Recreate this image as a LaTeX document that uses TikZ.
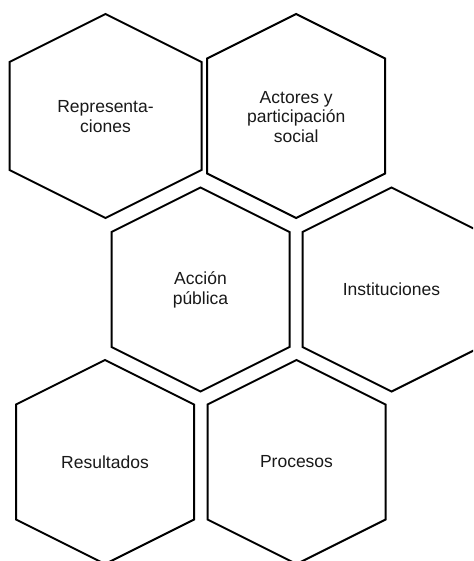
\documentclass[tikz,border=0pt]{standalone}
\usepackage{fontspec}
\setmainfont{Liberation Sans}
\tikzset{
  hexline/.style={draw=black, line width=2pt, line join=miter},
  hextext/.style={align=center, font=\fontsize{17.5}{19.5}\selectfont, inner sep=0pt, text=black!90}
}
\newcommand\myhex[3]{%
  \draw[hexline] (#1,#2) ++(0,-102) -- ++(#3,0.5*#3) -- ++(0,204-#3) -- ++(-#3,0.5*#3)
    -- ++(-#3,-0.5*#3) -- ++(0,-204+#3) -- cycle;}
\begin{document}
\begin{tikzpicture}[x=1pt,y=-1pt]
\useasboundingbox (0,0) rectangle (473,561);
\clip (0,0) rectangle (473,561);
\fill[white] (0,0) rectangle (473,561);
\myhex{105.5}{116}{96}
\myhex{296.2}{116}{89}
\myhex{200.5}{289.5}{89}
\myhex{391.5}{289.5}{89}
\myhex{105}{462}{89}
\myhex{296.5}{462}{89}
\node[hextext] (rep) at (105.5,116.5) {Representa-\\ciones};
\node[hextext] (act) at (296.2,117) {Actores y\\participación\\social};
\node[hextext] (acc) at (200.5,290) {Acción\\pública};
\node[hextext] (ins) at (391.5,289.5) {Instituciones};
\node[hextext] (res) at (105,462) {Resultados};
\node[hextext] (pro) at (296.5,462) {Procesos};
\end{tikzpicture}
\end{document}
